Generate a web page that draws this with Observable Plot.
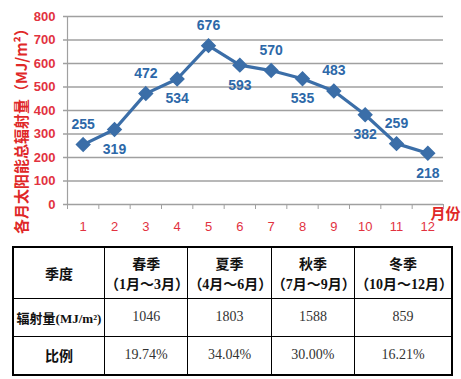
<!DOCTYPE html>
<html><head><meta charset="utf-8">
<script src="https://cdn.jsdelivr.net/npm/d3@7"></script>
<script src="https://cdn.jsdelivr.net/npm/@observablehq/plot@0.6"></script>
<style>
html,body{margin:0;padding:0;background:#fff;}
#wrap{width:461px;}
table{border-collapse:collapse;margin:6px 0 0 12px;width:441px;font-family:"Liberation Serif","Noto Sans CJK SC",serif;border:2px solid #000;}
td{border:1.5px solid #000;text-align:center;color:#333;font-size:14px;padding:0;}
td.h{font-weight:bold;color:#111;font-family:"Liberation Serif","Noto Sans CJK SC",serif;}
</style></head>
<body><div id="wrap"></div>
<script>
const months = [1,2,3,4,5,6,7,8,9,10,11,12];
const radiation = [255,319,472,534,676,593,570,535,483,382,259,218];
const yTicks = [0,100,200,300,400,500,600,700,800];
const yTitle = "各月太阳能总辐射量（MJ/m²）";
const xTitle = "月份";
const seasons = ["春季","夏季","秋季","冬季"];
const seasonRanges = ["（1月～3月）","（4月～6月）","（7月～9月）","（10月～12月）"];
const seasonTotals = [1046,1803,1588,859];
const seasonShares = ["19.74%","34.04%","30.00%","16.21%"];
const rowHeads = ["季度","辐射量(MJ/m²)","比例"];

const data = months.map((m,i)=>({month:m, value:radiation[i], i}));
const red = "#e2323f";
const blue = "#3b6ea8";
const labFont = "'Liberation Sans Narrow','Liberation Sans',sans-serif";

const chart = Plot.plot({
  width:461, height:240,
  marginLeft:67, marginRight:18, marginTop:16, marginBottom:36,
  style:{fontFamily:labFont, background:"white", overflow:"visible"},
  x:{domain:[0.5,12.5]},
  y:{domain:[0,800]},
  marks:[
    Plot.ruleY(yTicks,{stroke:"#a0a0a0", strokeWidth:1.6, insetLeft:-4}),
    Plot.ruleX([0.5],{stroke:"#a0a0a0", strokeWidth:1.2}),
    Plot.axisX({ticks:d3.range(0.5,13,1), tickSize:5, text:null, stroke:"#a0a0a0", label:null}),
    Plot.axisX({ticks:months, tickSize:0, tickPadding:17, fill:red, fontSize:13, label:null}),
    Plot.axisY({ticks:yTicks, tickSize:0, tickPadding:12, fill:red, fontSize:13, fontWeight:"bold", label:null}),
    Plot.line(data,{x:"month", y:"value", stroke:blue, strokeWidth:3.2}),
    Plot.dot(data,{x:"month", y:"value", symbol:"diamond2", r:6, fill:blue, stroke:blue}),
    Plot.text(data.filter(d=>d.i%2===0),{x:"month", y:"value", text:d=>String(d.value), dy:-20, fill:"#2d68a8", fontSize:14, fontWeight:"bold"}),
    Plot.text(data.filter(d=>d.i%2===1),{x:"month", y:"value", text:d=>String(d.value), dy:20, fill:"#2d68a8", fontSize:14, fontWeight:"bold"}),
    Plot.text([yTitle],{frameAnchor:"left", textAnchor:"middle", rotate:-90, dx:-45, dy:17, fill:"#e02828", fontSize:15, fontWeight:"bold", fontFamily:"'Noto Sans CJK SC',sans-serif"}),
    Plot.text([xTitle],{frameAnchor:"bottom-right", textAnchor:"start", dx:-13, dy:14, fill:"#e02828", fontSize:15, fontWeight:"bold", fontFamily:"'Noto Sans CJK SC',sans-serif"})
  ]
});
document.getElementById("wrap").appendChild(chart);

// table
const t = document.createElement("table");
const r1 = t.insertRow(); r1.style.height="51px";
let c = r1.insertCell(); c.className="h"; c.textContent=rowHeads[0]; c.style.width="90px";
seasons.forEach((s,i)=>{const cc=r1.insertCell(); cc.className="h"; cc.innerHTML=s+"<br>"+seasonRanges[i];});
const r2 = t.insertRow(); r2.style.height="38px";
c = r2.insertCell(); c.className="h"; c.textContent=rowHeads[1]; c.style.fontSize="13px";
seasonTotals.forEach(v=>{r2.insertCell().textContent=String(v);});
const r3 = t.insertRow(); r3.style.height="39px";
c = r3.insertCell(); c.className="h"; c.textContent=rowHeads[2];
seasonShares.forEach(v=>{r3.insertCell().textContent=v;});
document.getElementById("wrap").appendChild(t);
</script></body></html>
